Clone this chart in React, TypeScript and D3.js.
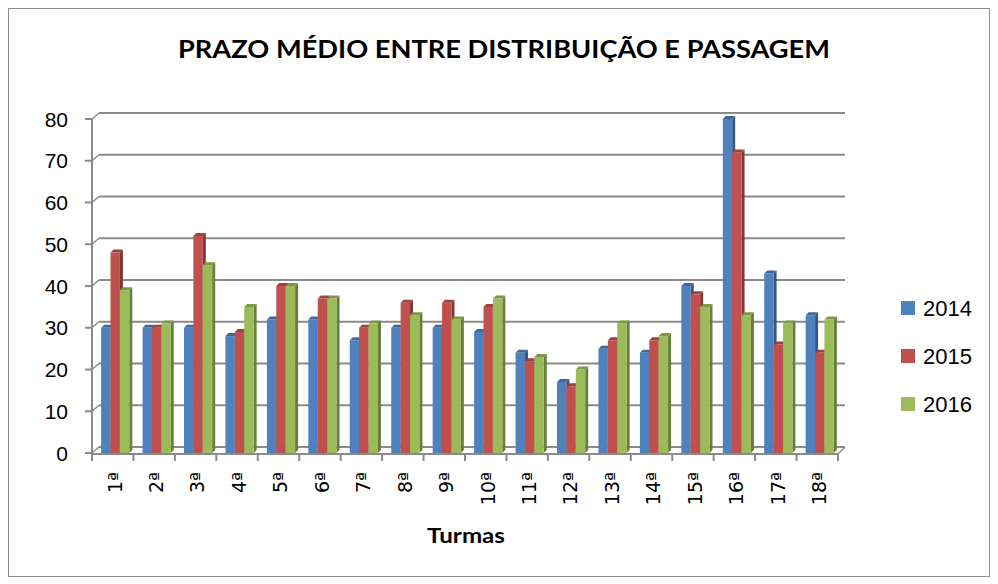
import React from 'react';
import * as d3 from 'd3';

const width = 998;
const height = 584;

// categories and values
const turmas = ['1ª', '2ª', '3ª', '4ª', '5ª', '6ª', '7ª', '8ª', '9ª', '10ª', '11ª', '12ª', '13ª', '14ª', '15ª', '16ª', '17ª', '18ª'];
const years = ['2014', '2015', '2016'];
const v2014 = [30, 30, 30, 28, 32, 32, 27, 30, 30, 29, 24, 17, 25, 24, 40, 80, 43, 33];
const v2015 = [48, 30, 52, 29, 40, 37, 30, 36, 36, 35, 22, 16, 27, 27, 38, 72, 26, 24];
const v2016 = [39, 31, 45, 35, 40, 37, 31, 33, 32, 37, 23, 20, 31, 28, 35, 33, 31, 32];
const yTicks = [0, 10, 20, 30, 40, 50, 60, 70, 80];
const colors = ['#4F81BD', '#C0504D', '#9BBB59'];

const values = [v2014, v2015, v2016];

// depth of the back wall and of each bar (fake 3d)
const wallDx = 7;
const wallDy = 6;
const barDx = 3;
const barDy = 3;

export default function App() {
    const x0 = d3.scaleBand().domain(turmas).range([92, 838]);
    const bw = x0.bandwidth();
    const x1 = d3.scaleBand().domain(years).range([bw * 0.22, bw * 0.9]);
    const y = d3.scaleLinear().domain([0, 80]).range([453, 119]);
    const left = x0.range()[0];
    const right = x0.range()[1];
    const gridColor = '#8a8a8a';

    return (
        <svg width={width} height={height} style={{ position: 'absolute', left: 0, top: 0, background: '#fff' }}>
            <rect x={8.5} y={8.5} width={981} height={568} fill="#fff" stroke="#8c8c8c" />

            <text x={504} y={58} textAnchor="middle" fontFamily="Lato, 'Open Sans', sans-serif" fontWeight="bold"
                fontSize={25} textLength={652} lengthAdjust="spacingAndGlyphs" fill="#000">
                PRAZO MÉDIO ENTRE DISTRIBUIÇÃO E PASSAGEM
            </text>

            {/* back wall gridlines */}
            {yTicks.map(t => (
                <g key={'g' + t}>
                    <line x1={left + wallDx} x2={right + wallDx} y1={y(t) - wallDy} y2={y(t) - wallDy}
                        stroke={gridColor} strokeWidth={2} />
                    <line x1={left} x2={left + wallDx} y1={y(t)} y2={y(t) - wallDy} stroke={gridColor} strokeWidth={1.5} />
                </g>
            ))}
            {/* floor right edge */}
            <line x1={right} x2={right + wallDx} y1={y(0) + 1} y2={y(0) - wallDy} stroke={gridColor} strokeWidth={1.5} />

            {/* bars */}
            {turmas.map((c, i) => (
                <g key={c} transform={`translate(${x0(c)},0)`}>
                    {years.map((s, j) => {
                        const bx = x1(s) as number;
                        const w = x1.bandwidth();
                        const top = y(values[j][i]);
                        const base = y(0);
                        const col = d3.color(colors[j]) as d3.RGBColor;
                        const topCol = col.darker(0.6).toString();
                        const sideCol = col.darker(1.1).toString();
                        return (
                            <g key={s}>
                                <polygon points={`${bx + w},${top} ${bx + w + barDx},${top - barDy} ${bx + w + barDx},${base - barDy} ${bx + w},${base}`}
                                    fill={sideCol} />
                                <polygon points={`${bx},${top} ${bx + barDx},${top - barDy} ${bx + w + barDx},${top - barDy} ${bx + w},${top}`}
                                    fill={topCol} />
                                <rect x={bx} y={top} width={w} height={base - top} fill={colors[j]} />
                            </g>
                        );
                    })}
                </g>
            ))}

            {/* value axis */}
            <line x1={left} x2={left} y1={y(80) - 1} y2={y(0) + 7} stroke={gridColor} strokeWidth={2} />
            {yTicks.map(t => (
                <g key={'t' + t}>
                    <line x1={left - 7} x2={left} y1={y(t)} y2={y(t)} stroke={gridColor} strokeWidth={2} />
                    <text x={68} y={y(t)} dy="0.36em" textAnchor="end" fontFamily="'Liberation Sans', Arial, sans-serif"
                        fontSize={21} fill="#000">{t}</text>
                </g>
            ))}

            {/* category axis */}
            <line x1={left} x2={right} y1={y(0) + 1} y2={y(0) + 1} stroke={gridColor} strokeWidth={2} />
            {turmas.map((c, i) => (
                <line key={'ct' + c} x1={left + i * bw} x2={left + i * bw} y1={y(0) + 1} y2={y(0) + 8} stroke={gridColor} strokeWidth={2} />
            ))}
            <line x1={right} x2={right} y1={y(0) + 1} y2={y(0) + 8} stroke={gridColor} strokeWidth={2} />
            {turmas.map(c => {
                const cx = (x0(c) as number) + bw / 2 + 2;
                return (
                    <text key={'l' + c} transform={`translate(${cx},472) rotate(-90)`} textAnchor="end" dy="0.36em"
                        fontFamily="'DejaVu Sans', 'Liberation Sans', sans-serif" fontSize={19} fill="#000">{c}</text>
                );
            })}

            <text x={466} y={543} textAnchor="middle" fontFamily="Lato, 'Open Sans', sans-serif" fontWeight="bold"
                fontSize={20} textLength={78} lengthAdjust="spacingAndGlyphs" fill="#000">Turmas</text>

            {/* legend */}
            {years.map((s, j) => (
                <g key={'lg' + s} transform={`translate(901,${308 + j * 48})`}>
                    <rect x={0} y={-7} width={14} height={14} fill={colors[j]} />
                    <text x={22} y={0} dy="0.36em" fontFamily="'Liberation Sans', Arial, sans-serif" fontSize={22} fill="#000">{s}</text>
                </g>
            ))}
        </svg>
    );
}
